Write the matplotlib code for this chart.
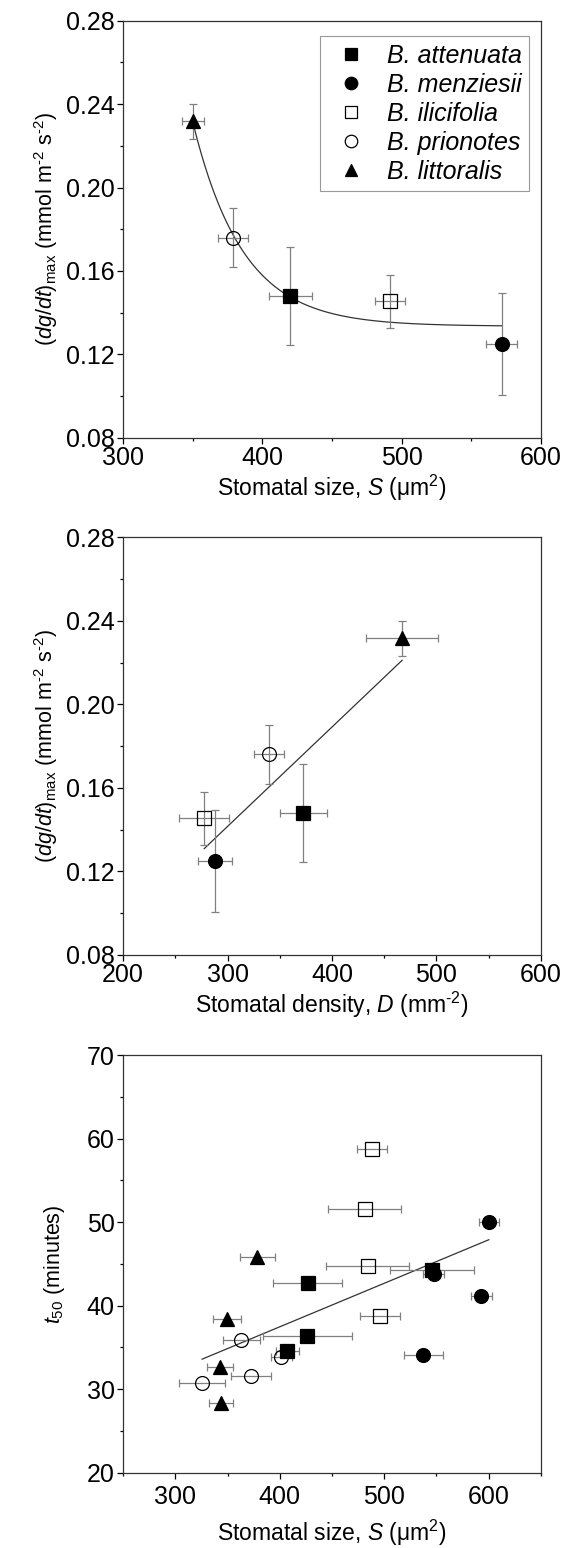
import numpy as np
import matplotlib
matplotlib.use("Agg")
import matplotlib.pyplot as plt

plt.rcParams["font.family"] = ["Liberation Sans", "DejaVu Sans"]
plt.rcParams["mathtext.fontset"] = "custom"
plt.rcParams["mathtext.rm"] = "Liberation Sans"
plt.rcParams["mathtext.it"] = "Liberation Sans:italic"

species = ["B. attenuata", "B. menziesii", "B. ilicifolia", "B. prionotes", "B. littoralis"]
markers = ["s", "o", "s", "o", "^"]
filled = [True, True, False, False, True]

# --- panel 1: max rate vs stomatal size (species means) ---
size_mean = [420, 572, 492, 379, 350]
size_err = [15.5, 11, 10.8, 11, 8]
rate_mean = [0.148, 0.125, 0.1455, 0.176, 0.2317]
rate_err = [0.0235, 0.0244, 0.0127, 0.014, 0.0084]

# exponential decay fit y = y0 + A*exp(-(S - S0)/tau)
fit_y0 = 0.1335
fit_A = 0.098
fit_S0 = 350
fit_tau = 36
fit_range = [350, 572]

# --- panel 2: max rate vs stomatal density ---
dens_mean = [372.7, 288, 277.6, 340, 467]
dens_err = [22.5, 16.5, 23.8, 14.5, 34.5]
lin2_x = [277.6, 467.2]
lin2_y = [0.1309, 0.2211]

# --- panel 3: t50 vs stomatal size (individual leaves) ---
p3_size = {
    "B. attenuata": [546, 427, 426.5, 407],
    "B. menziesii": [600.3, 547.6, 593, 537.7],
    "B. ilicifolia": [488.2, 481.2, 484.3, 496.2],
    "B. prionotes": [363.3, 401.3, 372.2, 325.6],
    "B. littoralis": [378.6, 349.5, 342.8, 343.8],
}
p3_size_err = {
    "B. attenuata": [40, 33, 43, 11],
    "B. menziesii": [9.5, 10, 10, 19],
    "B. ilicifolia": [14.4, 35, 40, 19.3],
    "B. prionotes": [18, 10, 19, 21.7],
    "B. littoralis": [17, 13, 12.8, 11.5],
}
p3_t50 = {
    "B. attenuata": [44.3, 42.75, 36.35, 34.6],
    "B. menziesii": [50.05, 43.75, 41.15, 34.05],
    "B. ilicifolia": [58.8, 51.55, 44.8, 38.75],
    "B. prionotes": [35.95, 33.9, 31.55, 30.7],
    "B. littoralis": [45.85, 38.35, 32.7, 28.3],
}
lin3_x = [325.6, 600.3]
lin3_y = [33.6, 47.9]

fig = plt.figure(figsize=(5.65, 15.48), dpi=100)
ax1 = fig.add_axes([0.218, 0.7172, 0.739, 0.2694])
ax2 = fig.add_axes([0.218, 0.3831, 0.739, 0.2698])
ax3 = fig.add_axes([0.218, 0.0486, 0.739, 0.2698])

err_kw = dict(ecolor="0.5", elinewidth=0.9, capsize=3, capthick=0.9, linestyle="none")


def draw_point(ax, x, y, xe, ye, i, label=None):
    fc = "black" if filled[i] else "none"
    ax.errorbar(x, y, xerr=xe, yerr=ye, marker=markers[i], ms=10,
                mfc=fc, mec="black", mew=0.9, label=label, zorder=3, **err_kw)


ylab_rate = r"$(d\mathit{g}/d\mathit{t})_{\mathrm{max}}$ (mmol m$^{\text{-2}}$ s$^{\text{-2}}$)"

for i, sp in enumerate(species):
    draw_point(ax1, size_mean[i], rate_mean[i], size_err[i], rate_err[i], i, label=sp)
sx = np.linspace(fit_range[0], fit_range[1], 200)
ax1.plot(sx, fit_y0 + fit_A * np.exp(-(sx - fit_S0) / fit_tau), color="0.2", lw=0.9, zorder=2)
ax1.set_xlim(300, 600)
ax1.set_ylim(0.08, 0.28)
ax1.set_xticks([300, 400, 500, 600])
ax1.set_yticks([0.08, 0.12, 0.16, 0.20, 0.24, 0.28])
ax1.set_yticklabels(["0.08", "0.12", "0.16", "0.20", "0.24", "0.28"])
ax1.set_xticks([350, 450, 550], minor=True)
ax1.set_yticks([0.10, 0.14, 0.18, 0.22, 0.26], minor=True)
ax1.set_xlabel(r"Stomatal size, $\mathit{S}$ (μm$^{\mathrm{2}}$)", fontsize=16.5, labelpad=2)
ax1.set_ylabel(ylab_rate, fontsize=15.5, labelpad=4)

handles = []
for i, sp in enumerate(species):
    fc = "black" if filled[i] else "none"
    h, = ax1.plot([], [], marker=markers[i], ms=9, mfc=fc, mec="black", mew=0.9, ls="none")
    handles.append(h)
leg = ax1.legend(handles, species, loc="upper right", bbox_to_anchor=(0.985, 0.975),
                 fancybox=False, edgecolor="0.5", handletextpad=0.45,
                 prop={"style": "italic", "size": 18}, borderpad=0.3, labelspacing=0.2,
                 handlelength=1.95, borderaxespad=0.2)
leg.get_frame().set_linewidth(0.8)

for i, sp in enumerate(species):
    draw_point(ax2, dens_mean[i], rate_mean[i], dens_err[i], rate_err[i], i)
ax2.plot(lin2_x, lin2_y, color="0.2", lw=0.9, zorder=2)
ax2.set_xlim(200, 600)
ax2.set_ylim(0.08, 0.28)
ax2.set_xticks([200, 300, 400, 500, 600])
ax2.set_yticks([0.08, 0.12, 0.16, 0.20, 0.24, 0.28])
ax2.set_yticklabels(["0.08", "0.12", "0.16", "0.20", "0.24", "0.28"])
ax2.set_xticks([250, 350, 450, 550], minor=True)
ax2.set_yticks([0.10, 0.14, 0.18, 0.22, 0.26], minor=True)
ax2.set_xlabel(r"Stomatal density, $\mathit{D}$ (mm$^{\text{-2}}$)", fontsize=16.5, labelpad=2)
ax2.set_ylabel(ylab_rate, fontsize=15.5, labelpad=4)

for i, sp in enumerate(species):
    draw_point(ax3, p3_size[sp], p3_t50[sp], p3_size_err[sp], None, i)
ax3.plot(lin3_x, lin3_y, color="0.2", lw=0.9, zorder=2)
ax3.set_xlim(250, 650)
ax3.set_ylim(20, 70)
ax3.set_xticks([300, 400, 500, 600])
ax3.set_yticks([20, 30, 40, 50, 60, 70])
ax3.set_xticks([250, 350, 450, 550, 650], minor=True)
ax3.set_yticks([25, 35, 45, 55, 65], minor=True)
ax3.set_xlabel(r"Stomatal size, $\mathit{S}$ (μm$^{\mathrm{2}}$)", fontsize=16.5, labelpad=6)
ax3.set_ylabel(r"$\mathit{t}_{\mathrm{50}}$ (minutes)", fontsize=15.5, labelpad=14)

for ax in (ax1, ax2, ax3):
    for s in ax.spines.values():
        s.set_linewidth(0.9)
        s.set_color("0.2")
    ax.tick_params(which="major", direction="out", length=4, width=0.9, labelsize=18, pad=2)
    ax.tick_params(which="minor", direction="out", length=2.5, width=0.9)
ax3.tick_params(axis="x", which="major", pad=5)

plt.savefig("out.png", dpi=100)
print("Saved out.png")
